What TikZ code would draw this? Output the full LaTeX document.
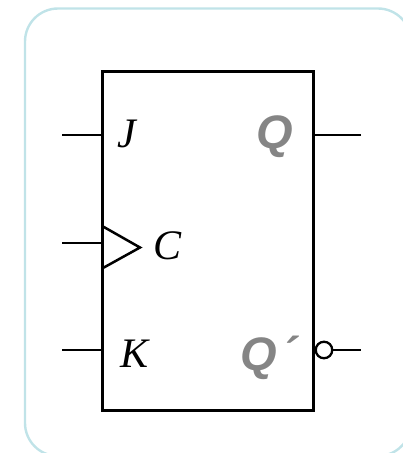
\documentclass[tikz,border=0pt]{standalone}
\usepackage{fontspec}
\setmainfont{Liberation Serif}
\newfontfamily\lblsans{Liberation Sans}
\definecolor{framecol}{HTML}{C0E3E8}
\definecolor{qgray}{HTML}{858585}
\tikzset{
  frameline/.style={draw=framecol,line width=2.4pt,rounded corners=33pt},
  ffbox/.style={draw=black,line width=3.5pt,minimum width=210.8pt,minimum height=339.2pt,inner sep=0pt,outer sep=0pt,anchor=north west},
  wire/.style={draw=black,line width=2pt},
  clockmark/.style={draw=black,line width=2.5pt,line join=miter},
  bubble/.style={circle,draw=black,line width=2.3pt,fill=white,minimum size=16.5pt,inner sep=0pt,outer sep=0pt},
  inlabel/.style={font=\fontsize{42}{42}\selectfont\itshape,text=black,inner sep=0pt,anchor=base},
  outlabel/.style={font=\lblsans\fontsize{47}{47}\selectfont\bfseries\itshape,text=qgray,inner sep=0pt,anchor=base},
}
\begin{document}
\begin{tikzpicture}[x=1pt,y=-1pt]
\useasboundingbox (0,0) rectangle (403,453);
\draw[frameline] (25,8.5) rectangle (411,456);
\node[ffbox] (ff) at (102.5,71.5) {};
\coordinate (jin) at (62,135);
\coordinate (cin) at (62,243);
\coordinate (kin) at (62,350);
\coordinate (qout) at (361,135);
\coordinate (nqout) at (361,350);
\draw[wire] (jin) -- (jin -| ff.west);
\draw[wire] (cin) -- (cin -| ff.west);
\draw[wire] (kin) -- (kin -| ff.west);
\draw[wire] (qout) -- (qout -| ff.east);
\node[bubble] (nq) at (324,350) {};
\draw[wire] (nq.east) -- (nqout);
\coordinate (clktop) at (103,226.5);
\coordinate (clktip) at (140,247.5);
\coordinate (clkbot) at (103,268);
\draw[clockmark] (clktop) -- (clktip) -- (clkbot);
\node[inlabel] (lj) at (127,147) {J};
\node[inlabel] (lc) at (168,259) {C};
\node[inlabel] (lk) at (135,367) {K};
\node[outlabel] (lq) at (275,148) {Q};
\node[outlabel] (lnq) at (269,370) {Q\kern4pt´};
\end{tikzpicture}
\end{document}
